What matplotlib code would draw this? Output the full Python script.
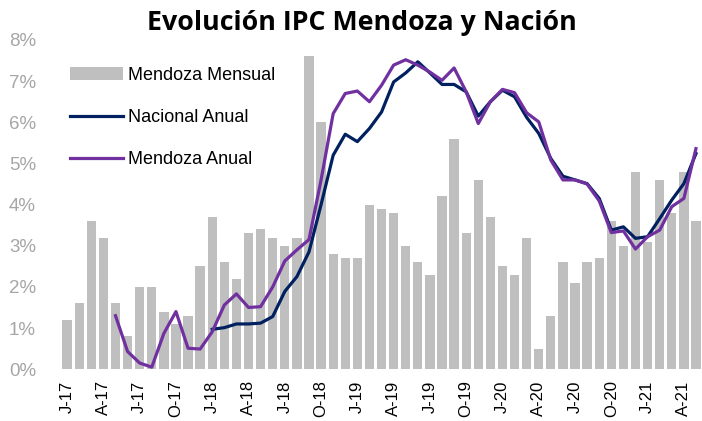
import numpy as np
import matplotlib
matplotlib.use('Agg')
import matplotlib.pyplot as plt
from matplotlib.ticker import FuncFormatter

# months Jan-2017 .. May-2021
meses = ['J-17', 'F-17', 'M-17', 'A-17', 'M-17', 'J-17', 'J-17', 'A-17', 'S-17', 'O-17', 'N-17', 'D-17',
         'J-18', 'F-18', 'M-18', 'A-18', 'M-18', 'J-18', 'J-18', 'A-18', 'S-18', 'O-18', 'N-18', 'D-18',
         'J-19', 'F-19', 'M-19', 'A-19', 'M-19', 'J-19', 'J-19', 'A-19', 'S-19', 'O-19', 'N-19', 'D-19',
         'J-20', 'F-20', 'M-20', 'A-20', 'M-20', 'J-20', 'J-20', 'A-20', 'S-20', 'O-20', 'N-20', 'D-20',
         'J-21', 'F-21', 'M-21', 'A-21', 'M-21']

# Mendoza monthly inflation (%)
mendoza_mensual = [1.2, 1.6, 3.6, 3.2, 1.6, 0.8, 2.0, 2.0, 1.4, 1.1, 1.3, 2.5,
                   3.7, 2.6, 2.2, 3.3, 3.4, 3.2, 3.0, 3.2, 7.6, 6.0, 2.8, 2.7,
                   2.7, 4.0, 3.9, 3.8, 3.0, 2.6, 2.3, 4.2, 5.6, 3.3, 4.6, 3.7,
                   2.5, 2.3, 3.2, 0.5, 1.3, 2.6, 2.1, 2.6, 2.7, 3.6, 3.0, 4.8,
                   3.1, 4.6, 3.8, 4.8, 3.6]

# annual series (scaled by 10 to share the axis), start later
nacional_anual = [np.nan] * 12 + [0.97, 1.01, 1.10, 1.10, 1.12, 1.28, 1.89, 2.25, 2.85, 4.0, 5.2, 5.71,
                                  5.53, 5.85, 6.25, 6.98, 7.2, 7.47, 7.2, 6.92, 6.92, 6.74, 6.15, 6.5,
                                  6.78, 6.62, 6.12, 5.73, 5.12, 4.69, 4.6, 4.51, 4.15, 3.38, 3.46, 3.18,
                                  3.22, 3.66, 4.11, 4.51, 5.24]

mendoza_anual = [np.nan] * 4 + [1.3, 0.43, 0.15, 0.05, 0.87, 1.4, 0.51, 0.49,
                                0.91, 1.56, 1.83, 1.5, 1.52, 2.0, 2.63, 2.9, 3.15, 4.6, 6.21, 6.7,
                                6.76, 6.5, 6.9, 7.39, 7.52, 7.39, 7.22, 7.02, 7.32, 6.74, 5.97, 6.5,
                                6.8, 6.72, 6.23, 6.01, 5.08, 4.6, 4.6, 4.5, 4.09, 3.32, 3.36, 2.92,
                                3.22, 3.38, 3.95, 4.15, 5.36]

gris = '#bfbfbf'
azul = '#002060'
violeta = '#7030a0'

fig = plt.figure(figsize=(7.02, 4.21), dpi=100)
ax = fig.add_axes([0.087, 0.123, 0.913, 0.782])

x = np.arange(len(meses))
barras = ax.bar(x, mendoza_mensual, width=0.77, color=gris, label='Mendoza Mensual', zorder=1)
l_nac, = ax.plot(x, nacional_anual, color=azul, lw=2.3, label='Nacional Anual', zorder=3)
l_mza, = ax.plot(x, mendoza_anual, color=violeta, lw=2.3, label='Mendoza Anual', zorder=4)

ax.set_xlim(-0.5, len(meses) - 0.5)
ax.set_ylim(0, 8)
ax.set_yticks(range(0, 9))
ax.yaxis.set_major_formatter(FuncFormatter(lambda v, p: '%d%%' % v))
ax.set_xticks(x[::3])
ax.set_xticklabels(meses[::3], rotation=90, fontsize=12, family='Liberation Sans')

for s in ax.spines.values():
    s.set_visible(False)
ax.tick_params(axis='y', length=0, pad=18, labelsize=13.5, labelcolor='#a6a6a6')
ax.tick_params(axis='x', length=0, pad=8)
for t in ax.get_yticklabels():
    t.set_family('Liberation Sans')

fig.text(0.515, 0.945, 'Evolución IPC Mendoza y Nación', ha='center', va='center',
         fontsize=19.3, fontweight='bold', family='Open Sans')

ax.legend([barras, l_nac, l_mza], ['Mendoza Mensual', 'Nacional Anual', 'Mendoza Anual'],
          loc='upper left', bbox_to_anchor=(0.09, 0.859), bbox_transform=fig.transFigure,
          frameon=False, prop={'family': 'Liberation Sans', 'size': 13},
          handlelength=2.9, handletextpad=0.3, labelspacing=1.4, borderaxespad=0)

fig.savefig('out.png', dpi=100)
